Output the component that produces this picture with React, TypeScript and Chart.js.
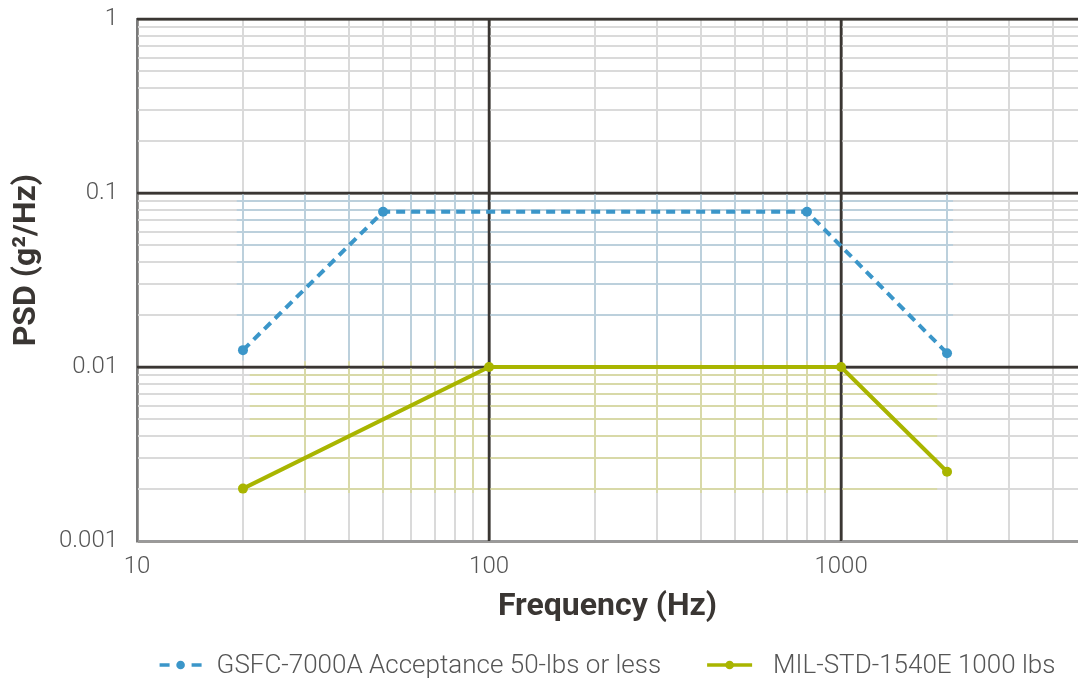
import React, { useEffect, useRef } from "react";
import { Chart, registerables } from "chart.js";

Chart.register(...registerables);

// ---- data ----
const gsfcFreq = [20, 50, 800, 2000];
const gsfcPsd = [0.0125, 0.078, 0.078, 0.012];
const milFreq = [20, 100, 1000, 2000];
const milPsd = [0.002, 0.01, 0.01, 0.0025];

const seriesLabels = ["GSFC-7000A Acceptance 50-lbs or less", "MIL-STD-1540E 1000 lbs"];

// grid / tick values
const xTickValues = [
  10, 20, 30, 40, 50, 60, 70, 80, 90,
  100, 200, 300, 400, 500, 600, 700, 800, 900,
  1000, 2000, 3000, 4000,
];
const yTickValues = [
  0.001, 0.002, 0.003, 0.004, 0.005, 0.006, 0.007, 0.008, 0.009,
  0.01, 0.02, 0.03, 0.04, 0.05, 0.06, 0.07, 0.08, 0.09,
  0.1, 0.2, 0.3, 0.4, 0.5, 0.6, 0.7, 0.8, 0.9, 1,
];
const xLabelValues = [10, 100, 1000];
const yLabelValues = [0.001, 0.01, 0.1, 1];

// tinted grid regions (data units)
const blueGridX = [20, 30, 40, 50, 60, 70, 80, 90, 200, 300, 400, 500, 600, 700, 800, 900, 2000];
const blueGridY = [0.02, 0.03, 0.04, 0.05, 0.06, 0.07, 0.08, 0.09];
const blueSpanX = [19.2, 2080];
const blueSpanY = [0.0109, 0.1];
const oliveGridX = [30, 40, 50, 60, 70, 80, 90, 200, 300, 400, 500, 600, 700, 800, 900];
const oliveGridY = [0.002, 0.003, 0.004, 0.005, 0.006, 0.007, 0.008, 0.009];
const oliveSpanX = [20.9, 1875];
const oliveSpanY = [0.00189, 0.0108];

const BLUE = "#3b96c9";
const OLIVE = "#a9b500";
const BLUE_TINT = "#bcd0dc";
const OLIVE_TINT = "#d8d9a8";
const MAJOR = "#3a3633";
const MINOR = "#dadada";
const TEXT = "#555555";
const FONT = "Roboto";

const isMajor = (v: number) => Math.abs(Math.log10(v) - Math.round(Math.log10(v))) < 1e-9;

const tintPlugin = {
  id: "tintGrid",
  beforeDatasetsDraw(chart: any) {
    const { ctx, chartArea, scales } = chart;
    const x = scales.x;
    const y = scales.y;
    const r = (v: number) => Math.round(v);
    ctx.save();
    ctx.lineWidth = 2;
    const region = (gx: number[], gy: number[], sx: number[], sy: number[], color: string) => {
      ctx.strokeStyle = color;
      const x0 = x.getPixelForValue(sx[0]);
      const x1 = x.getPixelForValue(sx[1]);
      const y0 = y.getPixelForValue(sy[0]);
      const y1 = y.getPixelForValue(sy[1]);
      gy.forEach((v) => {
        const py = r(y.getPixelForValue(v));
        ctx.beginPath();
        ctx.moveTo(x0, py);
        ctx.lineTo(x1, py);
        ctx.stroke();
      });
      gx.forEach((v) => {
        const px = r(x.getPixelForValue(v));
        ctx.beginPath();
        ctx.moveTo(px, y0);
        ctx.lineTo(px, y1);
        ctx.stroke();
      });
    };
    region(blueGridX, blueGridY, blueSpanX, blueSpanY, BLUE_TINT);
    region(oliveGridX, oliveGridY, oliveSpanX, oliveSpanY, OLIVE_TINT);
    // redraw major lines on top
    ctx.strokeStyle = MAJOR;
    ctx.lineWidth = 2.5;
    xTickValues.filter((v) => isMajor(v) && v > 10).forEach((v) => {
      const px = r(x.getPixelForValue(v));
      ctx.beginPath();
      ctx.moveTo(px, chartArea.top);
      ctx.lineTo(px, chartArea.bottom);
      ctx.stroke();
    });
    yTickValues.filter((v) => isMajor(v) && v > 0.001).forEach((v) => {
      const py = r(y.getPixelForValue(v));
      ctx.beginPath();
      ctx.moveTo(chartArea.left, py);
      ctx.lineTo(chartArea.right, py);
      ctx.stroke();
    });
    ctx.restore();
  },
};

// custom legend: line + dot markers with real text, centred under the plot area
const LEGEND_Y = 665;
const LEGEND_FONT_SIZE = 26;
const legendPlugin = {
  id: "customLegend",
  afterDraw(chart: any) {
    const { ctx, chartArea } = chart;
    ctx.save();
    ctx.font = `300 ${LEGEND_FONT_SIZE}px ${FONT}`;
    ctx.textBaseline = "middle";
    ctx.textAlign = "left";
    const items = [
      { text: seriesLabels[0], color: BLUE, dashed: true, markerW: 42, gap: 15 },
      { text: seriesLabels[1], color: OLIVE, dashed: false, markerW: 45, gap: 21 },
    ];
    const itemGap = 46;
    const widths = items.map((it) => it.markerW + it.gap + ctx.measureText(it.text).width);
    const total = widths.reduce((a, b) => a + b, 0) + itemGap * (items.length - 1);
    let x = (chartArea.left + chartArea.right) / 2 - total / 2;
    const cy = LEGEND_Y;
    items.forEach((it, i) => {
      ctx.strokeStyle = it.color;
      ctx.fillStyle = it.color;
      ctx.lineWidth = 3.5;
      ctx.beginPath();
      if (it.dashed) {
        ctx.moveTo(x, cy);
        ctx.lineTo(x + 10, cy);
        ctx.moveTo(x + it.markerW - 10, cy);
        ctx.lineTo(x + it.markerW, cy);
      } else {
        ctx.moveTo(x, cy);
        ctx.lineTo(x + it.markerW, cy);
      }
      ctx.stroke();
      ctx.beginPath();
      ctx.arc(x + it.markerW / 2, cy, 4.3, 0, Math.PI * 2);
      ctx.fill();
      ctx.fillStyle = TEXT;
      ctx.fillText(it.text, x + it.markerW + it.gap, cy + 1);
      x += widths[i] + itemGap;
    });
    ctx.restore();
  },
};

export default function App() {
  const ref = useRef<HTMLCanvasElement | null>(null);

  useEffect(() => {
    if (!ref.current) return;
    const chart = new Chart(ref.current, {
      type: "line",
      data: {
        datasets: [
          {
            label: seriesLabels[0],
            data: gsfcFreq.map((f, i) => ({ x: f, y: gsfcPsd[i] })),
            borderColor: BLUE,
            backgroundColor: BLUE,
            borderWidth: 4,
            borderDash: [9, 6],
            pointRadius: 5,
            pointBorderWidth: 0,
            pointBackgroundColor: BLUE,
            tension: 0,
          },
          {
            label: seriesLabels[1],
            data: milFreq.map((f, i) => ({ x: f, y: milPsd[i] })),
            borderColor: OLIVE,
            backgroundColor: OLIVE,
            borderWidth: 4,
            pointRadius: 5,
            pointBorderWidth: 0,
            pointBackgroundColor: OLIVE,
            tension: 0,
          },
        ],
      },
      options: {
        animation: false,
        responsive: true,
        maintainAspectRatio: false,
        layout: { padding: { top: 19, right: 0, left: 0, bottom: 45 } },
        plugins: {
          tooltip: { enabled: false },
          legend: { display: false },
        },
        scales: {
          x: {
            type: "logarithmic",
            min: 10,
            max: 4710,
            afterBuildTicks: (s: any) => {
              s.ticks = xTickValues.map((v) => ({ value: v }));
            },
            afterFit: (s: any) => {
              s.height = 96;
              s.paddingLeft = 0;
              s.paddingRight = 0;
            },
            border: { display: true, color: "#9a9a9a", width: 2 },
            grid: {
              drawTicks: false,
              color: (c: any) => (c.tick && isMajor(c.tick.value) ? MAJOR : MINOR),
              lineWidth: (c: any) => (c.tick && isMajor(c.tick.value) ? 2.5 : 2),
            },
            ticks: {
              autoSkip: false,
              maxRotation: 0,
              padding: 12,
              color: TEXT,
              font: { family: FONT, size: 24, weight: "300" },
              callback: (v: any) => (xLabelValues.includes(Number(v)) ? String(v) : ""),
            },
            title: {
              display: true,
              text: "Frequency (Hz)",
              color: MAJOR,
              padding: 11,
              font: { family: FONT, size: 32, weight: "bold" },
            },
          },
          y: {
            type: "logarithmic",
            min: 0.001,
            max: 1,
            afterBuildTicks: (s: any) => {
              s.ticks = yTickValues.map((v) => ({ value: v }));
            },
            afterFit: (s: any) => {
              s.width = 137;
              s.paddingTop = 0;
              s.paddingBottom = 0;
            },
            border: { display: true, color: "#7a7a7a", width: 2 },
            grid: {
              drawTicks: false,
              color: (c: any) => (c.tick && isMajor(c.tick.value) ? MAJOR : MINOR),
              lineWidth: (c: any) => (c.tick && isMajor(c.tick.value) ? 2.5 : 2),
            },
            ticks: {
              autoSkip: false,
              padding: 19,
              color: TEXT,
              font: { family: FONT, size: 24, weight: "300" },
              callback: (v: any) => (yLabelValues.includes(Number(v)) ? String(v) : ""),
            },
            title: {
              display: true,
              text: "     PSD (g²/Hz)",
              color: MAJOR,
              padding: 8,
              font: { family: FONT, size: 32, weight: "bold" },
            },
          },
        },
      },
      plugins: [tintPlugin, legendPlugin],
    } as any);
    return () => chart.destroy();
  }, []);

  return (
    <div style={{ position: "fixed", left: 0, top: 0, width: 1083, height: 682, background: "#fff" }}>
      <canvas ref={ref} />
    </div>
  );
}
